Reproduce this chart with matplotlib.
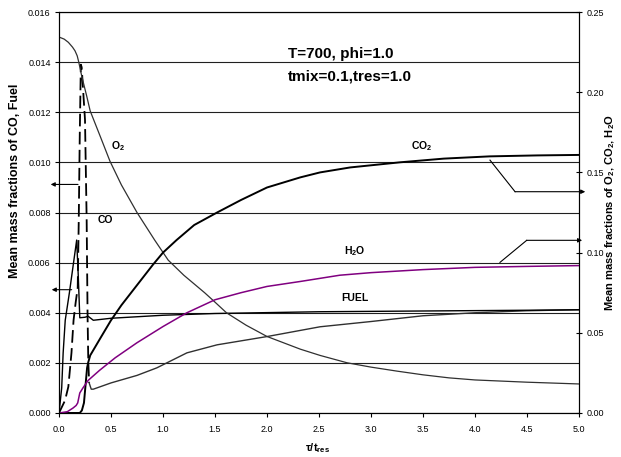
import matplotlib
matplotlib.use('Agg')
import matplotlib.pyplot as plt
from matplotlib.ticker import FormatStrFormatter, MultipleLocator

plt.rcParams['font.family'] = ['Liberation Sans', 'DejaVu Sans']
plt.rcParams['mathtext.fontset'] = 'custom'
plt.rcParams['mathtext.rm'] = 'Liberation Sans:bold'
plt.rcParams['mathtext.it'] = 'Liberation Sans:bold'
plt.rcParams['mathtext.bf'] = 'Liberation Sans:bold'

# left axis: CO and fuel (mass fraction)
co_x = [0, 0.058, 0.09, 0.12, 0.14, 0.16, 0.18, 0.19, 0.2, 0.21, 0.218, 0.25, 0.266,
        0.275, 0.282, 0.29, 0.31, 0.33, 0.5, 0.75, 0.94, 1.23, 1.52, 2.0, 2.51, 3.0,
        3.5, 4.0, 4.5, 5.0]
co_y = [0, 0.0005, 0.00105, 0.0024, 0.0037, 0.0044, 0.0050, 0.0077, 0.0112, 0.0139,
        0.0138, 0.0117, 0.0077, 0.0038, 0.0020, 0.0012, 0.00095, 0.00095, 0.0012,
        0.0015, 0.0018, 0.0024, 0.00272, 0.00305, 0.00344, 0.00365, 0.00388, 0.0040,
        0.00408, 0.00412]
fuel_x = [0, 0.026, 0.04, 0.06, 0.1, 0.14, 0.17, 0.185, 0.2, 0.25, 0.28, 0.33, 0.5,
          1.0, 1.5, 2.5, 3.5, 4.5, 5.0]
fuel_y = [0, 0.001, 0.0024, 0.0037, 0.0048, 0.0060, 0.0069, 0.0055, 0.0038, 0.00382,
          0.00386, 0.0037, 0.00378, 0.0039, 0.00397, 0.00404, 0.00407, 0.0041, 0.00412]

# right axis: O2, CO2, H2O
o2_x = [0, 0.05, 0.09, 0.13, 0.154, 0.175, 0.19, 0.218, 0.266, 0.3, 0.4, 0.49, 0.6,
        0.75, 0.92, 1.05, 1.2, 1.4, 1.48, 1.61, 1.8, 2.0, 2.32, 2.51, 2.77, 3.0, 3.25,
        3.5, 3.75, 4.0, 4.5, 5.0]
o2_y = [0.2344, 0.2331, 0.2311, 0.2281, 0.2258, 0.2227, 0.2188, 0.2102, 0.1977, 0.1883,
        0.1719, 0.1570, 0.1422, 0.125, 0.1078, 0.0953, 0.0859, 0.075, 0.0703, 0.0625,
        0.0547, 0.0477, 0.0398, 0.0359, 0.0313, 0.0286, 0.0261, 0.0238, 0.0219, 0.0206,
        0.0192, 0.0181]
co2_x = [0, 0.2, 0.22, 0.24, 0.255, 0.27, 0.28, 0.3, 0.4, 0.5, 0.6, 0.75, 0.9, 1.0,
         1.13, 1.3, 1.52, 1.75, 2.0, 2.32, 2.51, 2.8, 3.28, 3.7, 4.14, 4.6, 5.0]
co2_y = [0, 0, 0.0016, 0.0063, 0.0172, 0.0281, 0.0313, 0.0359, 0.0469, 0.0578, 0.0672,
         0.0797, 0.0922, 0.1, 0.1078, 0.1172, 0.125, 0.1328, 0.1406, 0.1469, 0.15,
         0.1531, 0.1563, 0.1586, 0.16, 0.1606, 0.1609]
h2o_x = [0, 0.08, 0.135, 0.165, 0.18, 0.19, 0.2, 0.23, 0.28, 0.39, 0.54, 0.75, 1.0,
         1.23, 1.5, 1.75, 2.0, 2.32, 2.7, 3.0, 3.5, 4.0, 4.5, 5.0]
h2o_y = [0, 0.0008, 0.0031, 0.0047, 0.0063, 0.0094, 0.0125, 0.0156, 0.0203, 0.0266,
         0.0344, 0.0438, 0.0539, 0.0625, 0.0706, 0.075, 0.0789, 0.082, 0.0859, 0.0875,
         0.0894, 0.0908, 0.0914, 0.0919]

fig = plt.figure(figsize=(6.21, 4.57), dpi=100)
ax = fig.add_axes([0.095, 0.0963, 0.8374, 0.8774])
ax2 = ax.twinx()

ax.set_xlim(0, 5)
ax.set_ylim(0, 0.016)
ax2.set_ylim(0, 0.25)

ax.xaxis.set_major_locator(MultipleLocator(0.5))
ax.yaxis.set_major_locator(MultipleLocator(0.002))
ax2.yaxis.set_major_locator(MultipleLocator(0.05))
ax.xaxis.set_major_formatter(FormatStrFormatter('%.1f'))
ax.yaxis.set_major_formatter(FormatStrFormatter('%.3f'))
ax2.yaxis.set_major_formatter(FormatStrFormatter('%.2f'))

ax.yaxis.grid(True, color='#202020', lw=0.8)
ax.set_axisbelow(True)

for a in (ax, ax2):
    for s in a.spines.values():
        s.set_linewidth(0.8)
ax.tick_params(axis='x', direction='out', length=3, width=0.8, labelsize=6.5, pad=6)
ax.tick_params(axis='y', direction='out', length=3, width=0.8, labelsize=6.5, pad=3)
ax2.tick_params(axis='y', direction='inout', length=5, width=0.8, labelsize=6.5, pad=3)

# CO: dashed while it changes fast, solid afterwards
n_dash = co_x.index(0.29) + 1
ax.plot(co_x[:n_dash], co_y[:n_dash], color='black', lw=1.3, dashes=(7, 3))
ax.plot(co_x[n_dash - 1:], co_y[n_dash - 1:], color='#303030', lw=1.0)
ax.plot(fuel_x, fuel_y, color='black', lw=1.0)

ax2.plot(o2_x, o2_y, color='#303030', lw=0.9)
ax2.plot(co2_x, co2_y, color='black', lw=1.4)
ax2.plot(h2o_x, h2o_y, color='#800080', lw=1.1)

lab = dict(fontsize=7.5, fontweight='bold', ha='center', va='center')
ax.text(0.567, 0.01064, 'O$_2$', **lab)
ax.text(0.442, 0.00772, 'CO', **lab)
ax.text(3.49, 0.01064, 'CO$_2$', **lab)
ax.text(2.846, 0.00645, 'H$_2$O', **lab)
ax.text(2.846, 0.0046, 'FUEL', **lab)

ax.text(2.2, 0.01432, 'T=700, phi=1.0', fontsize=11, fontweight='bold', va='center')
ax.text(2.2, 0.01344, 'tmix=0.1,tres=1.0', fontsize=11, fontweight='bold', va='center')

arw = dict(arrowstyle='-|>', mutation_scale=6, lw=0.8, color='black',
           shrinkA=0, shrinkB=0)
ax.annotate('', xy=(-0.08, 0.00912), xytext=(0.183, 0.00912),
            arrowprops=arw, annotation_clip=False)
ax.annotate('', xy=(-0.07, 0.00492), xytext=(0.122, 0.00492),
            arrowprops=arw, annotation_clip=False)
ax.plot([4.144, 4.385], [0.01009, 0.00883], color='black', lw=0.8)
ax.annotate('', xy=(5.06, 0.00883), xytext=(4.385, 0.00883),
            arrowprops=arw, annotation_clip=False)
ax.plot([4.24, 4.497], [0.00601, 0.00689], color='black', lw=0.8)
ax.annotate('', xy=(5.03, 0.00689), xytext=(4.497, 0.00689),
            arrowprops=arw, annotation_clip=False)

ax.set_xlabel('τ/t$_{res}$', fontsize=8, fontweight='bold')
ax.xaxis.set_label_coords(0.498, -0.07)
ax.set_ylabel('Mean mass fractions of CO, Fuel', fontsize=9, fontweight='bold')
ax.yaxis.set_label_coords(-0.073, 0.579)
ax2.set_ylabel('Mean mass fractions of O$_2$, CO$_2$, H$_2$O', fontsize=8,
               fontweight='bold', rotation=90)
ax2.yaxis.set_label_coords(1.046, 0.5)

plt.savefig('out.png', dpi=100)
